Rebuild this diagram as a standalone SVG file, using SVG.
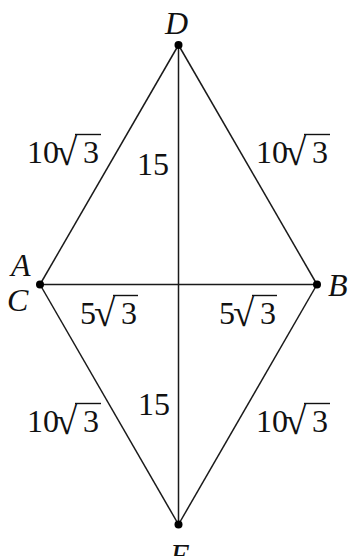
<svg xmlns="http://www.w3.org/2000/svg" xmlns:xlink="http://www.w3.org/1999/xlink" width="350" height="556" viewBox="0 0 350 556">
<style>
.t{font-family:"Liberation Serif","Times New Roman",serif;font-size:32px;fill:#111}
.rad{font-family:"Liberation Serif","Times New Roman",serif;font-size:39px;fill:#111}
.i{font-style:italic}
.ln{stroke:#1a1a1a;stroke-width:1.5;fill:none}
.ov{stroke:#111;stroke-width:1.4}
.dot{fill:#000}
</style>
<defs>
<g id="r10">
<text class="t" x="0" y="0">10</text>
<text class="rad" x="29" y="2">√</text>
<text class="t" x="56" y="0">3</text>
<line class="ov" x1="48" y1="-28.5" x2="74" y2="-28.5"/>
</g>
<g id="r5">
<text class="t" x="0" y="0">5</text>
<text class="rad" x="14" y="2">√</text>
<text class="t" x="41" y="0">3</text>
<line class="ov" x1="33" y1="-28.5" x2="58" y2="-28.5"/>
</g>
</defs>
<rect width="350" height="556" fill="#fff"/>
<g id="connectors">
<line class="ln" x1="178.5" y1="45" x2="40" y2="284.5"/>
<line class="ln" x1="178.5" y1="45" x2="317" y2="284.5"/>
<line class="ln" x1="178.5" y1="45" x2="178.5" y2="524.5"/>
<line class="ln" x1="40" y1="284.5" x2="317" y2="284.5"/>
<line class="ln" x1="40" y1="284.5" x2="178.5" y2="524.5"/>
<line class="ln" x1="317" y1="284.5" x2="178.5" y2="524.5"/>
</g>
<g id="node-D"><circle class="dot" cx="178.5" cy="45" r="4"/><text class="t i" x="165" y="34">D</text></g>
<g id="node-A"><circle class="dot" cx="40" cy="284.5" r="4"/><text class="t i" x="11" y="276">A</text><text class="t i" x="7" y="311">C</text></g>
<g id="node-B"><circle class="dot" cx="317" cy="284.5" r="4"/><text class="t i" x="328" y="296">B</text></g>
<g id="node-E"><circle class="dot" cx="178.5" cy="524.5" r="4"/><text class="t i" x="170" y="566">E</text></g>
<g id="labels">
<use xlink:href="#r10" x="27" y="163"/>
<use xlink:href="#r10" x="256" y="163"/>
<text class="t" x="137" y="175">15</text>
<use xlink:href="#r5" x="80" y="324"/>
<use xlink:href="#r5" x="219" y="324"/>
<text class="t" x="138" y="415">15</text>
<use xlink:href="#r10" x="27" y="432"/>
<use xlink:href="#r10" x="256" y="432"/>
</g>
</svg>
